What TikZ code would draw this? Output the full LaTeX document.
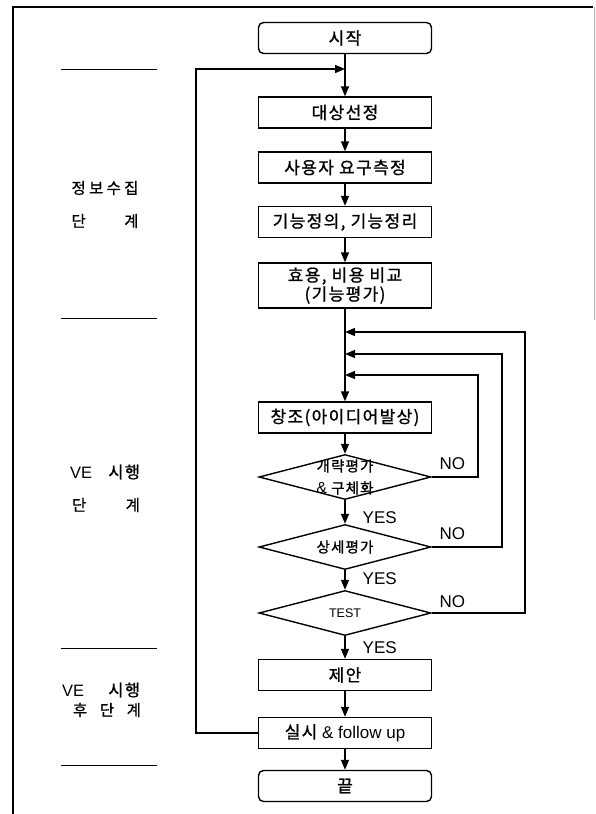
\documentclass[tikz,border=0pt]{standalone}
\usepackage{fontspec}
\setmainfont{Liberation Sans}
\newfontfamily\kr[LetterSpace=8, FakeBold=1]{Noto Sans CJK KR}
\usetikzlibrary{shapes.geometric,arrows.meta}

\begin{document}
\begin{tikzpicture}[x=1pt, y=-1pt, line width=1.4pt]
		\tikzstyle{every node}=[font=\fontsize{17}{19}\selectfont]
		\tikzset{
			stepbox/.style={draw, minimum width=173pt, minimum height=31pt, inner sep=2pt},
			endbox/.style={stepbox, rounded corners=5pt},
			testbox/.style={draw, diamond, aspect=3.8, minimum width=172pt, minimum height=45pt, inner sep=0pt},
			arr/.style={-{Triangle[length=10pt, width=8pt]}},
			answer/.style={font=\fontsize{17}{18}\selectfont, anchor=west, inner sep=0pt},
			phase/.style={inner sep=0pt, font=\fontsize{15.5}{18}\selectfont}
		}
		\useasboundingbox (0,0) rectangle (596,814);
		% frame
		\draw[line width=1.6pt] (13,814) -- (13,7) -- (593,7);
		\draw[gray!60, line width=0.8pt] (594,7) -- (594,320);
		
		% flow
		\node[endbox] (start) at (345,38) {\kr 시작};
		\node[stepbox] (select) at (345,112.5) {\kr 대상선정};
		\node[stepbox] (need) at (345,167.5) {\kr 사용자 요구측정};
		\node[stepbox] (func) at (345,222) {\kr 기능정의, 기능정리};
		\node[stepbox, minimum height=45pt, align=center] (value) at (345,285.5) {{\kr 효용, 비용 비교}\\{\kr (기능평가)}};
		\node[stepbox] (idea) at (345,417.5) {\kr 창조(아이디어발상)};
		\node[testbox, label={[align=center, font=\fontsize{14.5}{22}\selectfont]center:{{\kr 개략평가}\\{\fontsize{16}{22}\selectfont\&}\ {\kr 구체화}}}] (rough) at (345,477) {};
		\node[testbox, label={[font=\fontsize{14.5}{18}\selectfont]center:{\kr 상세평가}}] (detail) at (345,547) {};
		\node[testbox, label={[font=\fontsize{12.5}{14}\selectfont]center:TEST}] (test) at (345,613) {};
		\node[stepbox] (propose) at (345,675) {\kr 제안};
		\node[stepbox] (follow) at (345,733) {{\kr 실시} \& follow up};
		\node[endbox] (finish) at (345,786) {\kr 끝};
		
		% joins on the main line
		\coordinate (join0) at (345,69);
		\coordinate (join1) at (345,332);
		\coordinate (join2) at (345,354);
		\coordinate (join3) at (345,375);
		\coordinate (back) at (196,0);
		\coordinate (ret1) at (478,0);
		\coordinate (ret2) at (502,0);
		\coordinate (ret3) at (525,0);
		
		\draw[arr] (start) -- (select);
		\draw[arr] (select) -- (need);
		\draw[arr] (need) -- (func);
		\draw[arr] (func) -- (value);
		\draw[arr] (value) -- (idea);
		\draw[arr] (idea) -- (rough);
		\draw[arr] (rough) -- (detail);
		\draw[arr] (detail) -- (test);
		\draw[arr] (test) -- (propose);
		\draw[arr] (propose) -- (follow);
		\draw[arr] (follow) -- (finish);
		
		\draw[arr] (follow.west) -- (follow.west -| back) |- (join0);
		\draw[arr] (rough.east) -- (rough.east -| ret1) |- (join3);
		\draw[arr] (detail.east) -- (detail.east -| ret2) |- (join2);
		\draw[arr] (test.east) -- (test.east -| ret3) |- (join1);
		
		\node[answer] (no1) at (439,464) {NO};
		\node[answer] (no2) at (439,534) {NO};
		\node[answer] (no3) at (439,602) {NO};
		\node[answer] (yes1) at (362,518) {YES};
		\node[answer] (yes2) at (362,579) {YES};
		\node[answer] (yes3) at (362,648) {YES};
		
		% phases
		\draw[line width=1pt] (61,69) -- (157,69);
		\draw[line width=1pt] (61,318) -- (157,318);
		\draw[line width=1pt] (61,648) -- (157,648);
		\draw[line width=1pt] (61,765) -- (157,765);
		\node[phase] (collect) at (105,188) {\hbox to 67pt{\kr 정\hfill 보\hfill 수\hfill 집}};
		\node[phase] (collect2) at (105,221) {\hbox to 67pt{\kr 단\hfill 계}};
		\node[phase] (run) at (105,472) {\hbox to 70pt{\fontsize{16.5}{18}\selectfont VE\hfill{\kr 시행}}};
		\node[phase] (run2) at (106,505) {\hbox to 68pt{\kr 단\hfill 계}};
		\node[phase] (after) at (101,690) {\hbox to 78pt{\fontsize{16.5}{18}\selectfont VE\hfill{\kr 시행}}};
		\node[phase] (after2) at (107,710) {\hbox to 68pt{\kr 후\hfill 단\hfill 계}};
	\end{tikzpicture}
\end{document}
